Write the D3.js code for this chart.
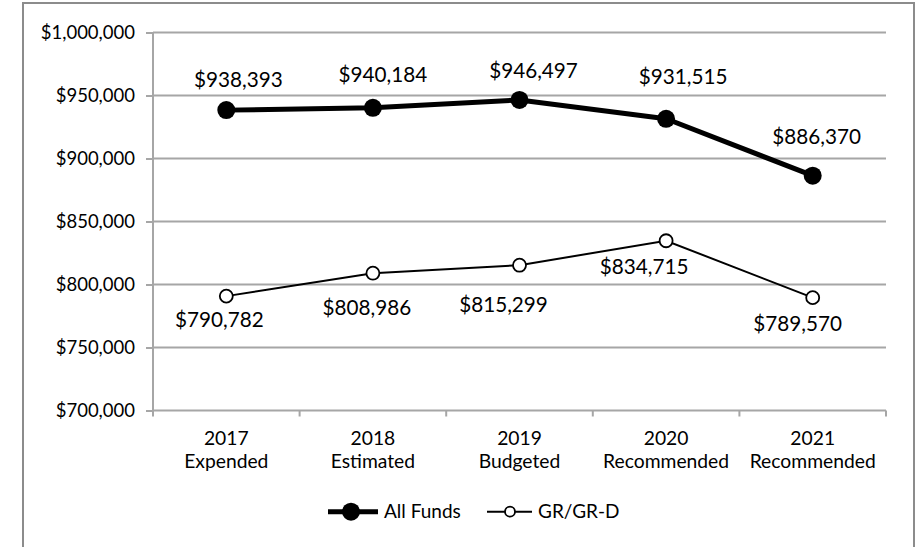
<!DOCTYPE html>
<html>
<head>
<meta charset="utf-8">
<script src="https://cdn.jsdelivr.net/npm/d3@7"></script>
<style>
  html, body { margin: 0; padding: 0; background: #fff; }
  svg { display: block; }
  text { font-family: Lato, "Open Sans", sans-serif; fill: #000; }
</style>
</head>
<body>
<svg id="chart" width="922" height="547"></svg>
<script>
// ---- data ----
const yearLabels = ["2017", "2018", "2019", "2020", "2021"];
const stageLabels = ["Expended", "Estimated", "Budgeted", "Recommended", "Recommended"];
const allFunds = [938393, 940184, 946497, 931515, 886370];
const grFunds = [790782, 808986, 815299, 834715, 789570];
const yTicks = [700000, 750000, 800000, 850000, 900000, 950000, 1000000];
const seriesNames = ["All Funds", "GR/GR-D"];

// ---- label layout nudges (px, relative to each point) ----
const allLabelDx = [12, 10, 14, 17, 4];
const allLabelDy = [-23, -26, -22, -35, -32];
const grLabelDx = [-7, -6, -16, -22, -15];
const grLabelDy = [31, 42, 47, 33, 33];

(function () {
const svg = d3.select("#chart");
const W = 922, H = 547;
const pLeft = 153, pRight = 886, pTop = 32.5, pBottom = 410.5;
const gridColor = "#a6a6a6";

// frame
svg.append("rect")
  .attr("x", 23).attr("y", 3)
  .attr("width", 891).attr("height", H + 20)
  .attr("fill", "none").attr("stroke", "#8c8c8c").attr("stroke-width", 2);

const cats = yearLabels.map((yr, i) => yr + "|" + stageLabels[i]);
const x = d3.scaleBand().domain(cats).range([pLeft, pRight]).padding(0);
const cx = i => x(cats[i]) + x.bandwidth() / 2;
const y = d3.scaleLinear().domain([700000, 1000000]).range([pBottom, pTop]);

// gridlines
svg.append("g").selectAll("line")
  .data(yTicks.filter(t => t !== 700000))
  .join("line")
  .attr("x1", pLeft).attr("x2", pRight)
  .attr("y1", d => y(d)).attr("y2", d => y(d))
  .attr("stroke", gridColor).attr("stroke-width", 2);

// y axis
const yAxis = d3.axisLeft(y).tickValues(yTicks).tickSize(7).tickPadding(11)
  .tickFormat(d => "$" + d3.format(",")(d));
const gy = svg.append("g").attr("transform", `translate(${pLeft},0)`).call(yAxis);
gy.select(".domain").attr("stroke", gridColor).attr("stroke-width", 2)
  .attr("d", `M0,${pTop}V${pBottom}`);
gy.selectAll(".tick line").attr("stroke", gridColor).attr("stroke-width", 2);
gy.selectAll(".tick text").attr("font-family", "Lato, sans-serif")
  .attr("font-size", 18.5).attr("fill", "#000");

// x axis line + ticks at band edges
svg.append("line").attr("x1", pLeft).attr("x2", pRight)
  .attr("y1", pBottom).attr("y2", pBottom)
  .attr("stroke", gridColor).attr("stroke-width", 2);
const edges = cats.map(c => x(c)).concat([pRight]);
svg.append("g").selectAll("line").data(edges).join("line")
  .attr("x1", d => d).attr("x2", d => d)
  .attr("y1", pBottom).attr("y2", pBottom + 6)
  .attr("stroke", gridColor).attr("stroke-width", 2);

// category labels
const catG = svg.append("g");
yearLabels.forEach((yr, i) => {
  const t = catG.append("text").attr("text-anchor", "middle")
    .attr("font-size", 19.3);
  t.append("tspan").attr("x", cx(i)).attr("y", 444.5).text(yr);
  t.append("tspan").attr("x", cx(i)).attr("y", 468).text(stageLabels[i]);
});

// lines
const line = d3.line().x((d, i) => cx(i)).y(d => y(d));
svg.append("path").datum(grFunds).attr("d", line)
  .attr("fill", "none").attr("stroke", "#000").attr("stroke-width", 2);
svg.append("path").datum(allFunds).attr("d", line)
  .attr("fill", "none").attr("stroke", "#000").attr("stroke-width", 5)
  .attr("stroke-linejoin", "round");

// markers
svg.append("g").selectAll("circle").data(grFunds).join("circle")
  .attr("cx", (d, i) => cx(i)).attr("cy", d => y(d)).attr("r", 6.5)
  .attr("fill", "#fff").attr("stroke", "#000").attr("stroke-width", 1.8);
svg.append("g").selectAll("circle").data(allFunds).join("circle")
  .attr("cx", (d, i) => cx(i)).attr("cy", d => y(d)).attr("r", 9)
  .attr("fill", "#000");

// data labels
const fmt = d => "$" + d3.format(",")(d);
svg.append("g").selectAll("text").data(allFunds).join("text")
  .attr("x", (d, i) => cx(i) + allLabelDx[i])
  .attr("y", (d, i) => y(d) + allLabelDy[i])
  .attr("text-anchor", "middle").attr("font-size", 20.7)
  .text(fmt);
svg.append("g").selectAll("text").data(grFunds).join("text")
  .attr("x", (d, i) => cx(i) + grLabelDx[i])
  .attr("y", (d, i) => y(d) + grLabelDy[i])
  .attr("text-anchor", "middle").attr("font-size", 20.7)
  .text(fmt);

// legend
const lg = svg.append("g");
const ly = 511.7;
lg.append("line").attr("x1", 328).attr("x2", 378).attr("y1", ly).attr("y2", ly)
  .attr("stroke", "#000").attr("stroke-width", 5);
lg.append("circle").attr("cx", 351).attr("cy", ly).attr("r", 9).attr("fill", "#000");
lg.append("text").attr("x", 384).attr("y", ly + 6.5).attr("font-size", 19).text(seriesNames[0]);
lg.append("line").attr("x1", 487).attr("x2", 532).attr("y1", ly).attr("y2", ly)
  .attr("stroke", "#000").attr("stroke-width", 2);
lg.append("circle").attr("cx", 510).attr("cy", ly).attr("r", 5)
  .attr("fill", "#fff").attr("stroke", "#000").attr("stroke-width", 1.8);
lg.append("text").attr("x", 538).attr("y", ly + 6.5).attr("font-size", 19).text(seriesNames[1]);
})();
</script>
</body>
</html>
